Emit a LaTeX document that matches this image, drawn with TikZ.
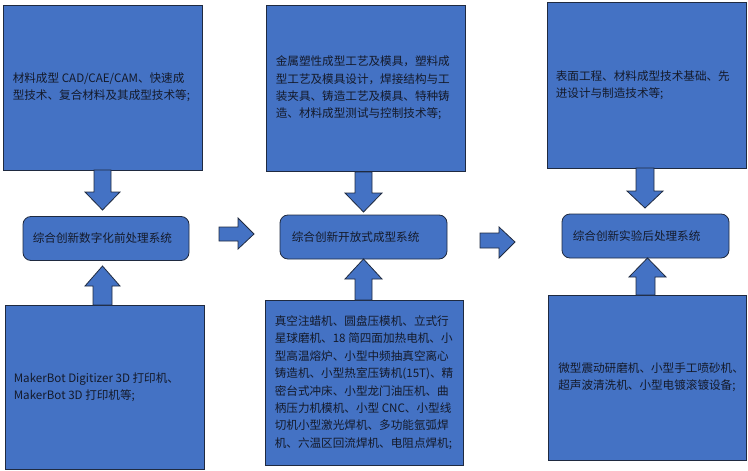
\documentclass[tikz,border=0pt]{standalone}
\usepackage{fontspec}
\setmainfont{Noto Sans CJK SC}
\definecolor{boxfill}{HTML}{4472C4}
\definecolor{boxline}{HTML}{1F2A40}
\definecolor{txt}{HTML}{141A2A}
\begin{document}
\begin{tikzpicture}[x=1pt,y=-1pt,
  bigbox/.style={draw=boxline,fill=boxfill,line width=0.8pt,inner sep=0pt},
  sysbox/.style={draw=boxline,fill=boxfill,line width=0.8pt,inner sep=0pt,rounded corners=8pt,minimum width=166pt,minimum height=44pt},
  lbl/.style={anchor=west,inner sep=0pt,align=left,text=txt,font=\fontsize{11.6}{17.4}\selectfont},
  arr/.style={draw=boxline,fill=boxfill,line width=0.8pt,line join=miter}]
\useasboundingbox (0,0) rectangle (748,471);
% top boxes
\node[bigbox,minimum width=199pt,minimum height=165pt] (b1) at (102.5,87.5) {};
\node[bigbox,minimum width=199pt,minimum height=166pt] (b2) at (365.5,88) {};
\node[bigbox,minimum width=199pt,minimum height=166pt] (b3) at (646.5,85) {};
% bottom boxes
\node[bigbox,minimum width=199pt,minimum height=164pt] (b4) at (104.5,387) {};
\node[bigbox,minimum width=198pt,minimum height=165pt] (b5) at (364,382.5) {};
\node[bigbox,minimum width=198pt,minimum height=165pt] (b6) at (647.5,377.5) {};
% system boxes
\node[sysbox] (r1) at (106,238.5) {};
\node[sysbox,minimum width=167pt] (r2) at (363.5,237) {};
\node[sysbox,minimum width=167pt] (r3) at (645.5,236) {};
% arrows
\filldraw[arr] (94,170) -- (111,170) -- (111,192) -- (120,192) -- (102.5,210) -- (85,192) -- (94,192) -- cycle;
\filldraw[arr] (355,172) -- (372,172) -- (372,193) -- (382,193) -- (363.5,212) -- (345,193) -- (355,193) -- cycle;
\filldraw[arr] (636,168) -- (654,168) -- (654,191) -- (663,191) -- (645,208) -- (627,191) -- (636,191) -- cycle;
\filldraw[arr] (93,305) -- (112,305) -- (112,286) -- (120,286) -- (102.5,266) -- (85,286) -- (93,286) -- cycle;
\filldraw[arr] (355,300) -- (372,300) -- (372,279) -- (382,279) -- (363.5,259) -- (345,279) -- (355,279) -- cycle;
\filldraw[arr] (636,295) -- (655,295) -- (655,277) -- (666,277) -- (647.5,258) -- (629,277) -- (636,277) -- cycle;
\filldraw[arr] (219,227) -- (238,227) -- (238,218) -- (254,234) -- (238,249) -- (238,241) -- (219,241) -- cycle;
\filldraw[arr] (480,233) -- (499,233) -- (499,227) -- (515,242) -- (499,258) -- (499,248) -- (480,248) -- cycle;
% texts
\node[lbl] (t1) at ([xshift=10pt]b1.west) {材料成型 CAD/CAE/CAM、快速成\\型技术、复合材料及其成型技术等;};
\node[lbl] (t2) at ([xshift=10pt]b2.west) {金属塑性成型工艺及模具，塑料成\\型工艺及模具设计，焊接结构与工\\装夹具、铸造工艺及模具、特种铸\\造、材料成型测试与控制技术等;};
\node[lbl] (t3) at ([xshift=9pt]b3.west) {表面工程、材料成型技术基础、先\\进设计与制造技术等;};
\node[lbl] (t4) at ([xshift=9pt]b4.west) {MakerBot Digitizer 3D 打印机、\\MakerBot 3D 打印机等;};
\node[lbl] (t5) at ([xshift=10pt]b5.west) {真空注蜡机、圆盘压模机、立式行\\星球磨机、18 简四面加热电机、小\\型高温熔炉、小型中频抽真空离心\\铸造机、小型热室压铸机(15T)、精\\密台式冲床、小型龙门油压机、曲\\柄压力机模机、小型 CNC、小型线\\切机小型激光焊机、多功能氩弧焊\\机、六温区回流焊机、电阻点焊机;};
\node[lbl] (t6) at ([xshift=10pt]b6.west) {微型震动研磨机、小型手工喷砂机、\\超声波清洗机、小型电镀滚镀设备;};
\node[lbl] (s1) at ([xshift=10pt]r1.west) {综合创新数字化前处理系统};
\node[lbl] (s2) at ([xshift=12pt]r2.west) {综合创新开放式成型系统};
\node[lbl] (s3) at ([xshift=11pt]r3.west) {综合创新实验后处理系统};
\end{tikzpicture}
\end{document}
